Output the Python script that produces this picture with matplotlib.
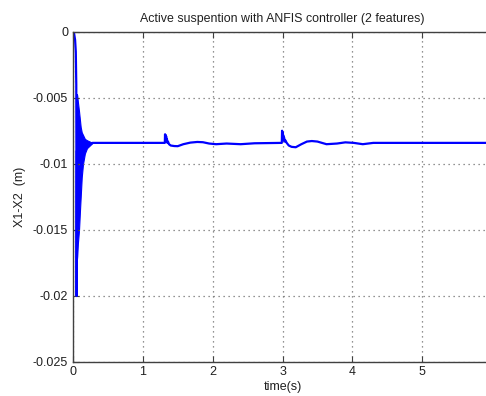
import numpy as np
import matplotlib.pyplot as plt

plt.rcParams['font.family'] = ['Liberation Sans', 'DejaVu Sans']

# main trace: time (s) and X1-X2 (m)
line_t = [0, 0.015, 0.03, 0.04, 0.047, 0.052, 0.057, 0.28,
          1.315, 1.318, 1.321, 1.325, 1.329, 1.334, 1.339, 1.345, 1.352, 1.36, 1.375, 1.40,
          1.45, 1.5, 1.58, 1.68, 1.78, 1.86, 1.95, 2.05, 2.2, 2.4, 2.6,
          2.99, 2.994, 2.997, 3.001, 3.005, 3.010, 3.016, 3.023, 3.031, 3.04, 3.06, 3.09,
          3.13, 3.19, 3.27, 3.35, 3.42, 3.5, 3.63, 3.78, 3.9, 4.02,
          4.15, 4.3, 6.0]
line_x = [0, -0.0001, -0.0006, -0.0015, -0.0040, -0.0200, -0.0090, -0.0084,
          -0.0084, -0.00775, -0.0081, -0.0078, -0.0082, -0.0079, -0.0083, -0.0081, -0.0084,
          -0.0083, -0.0085, -0.0086,
          -0.00864, -0.00865, -0.0085, -0.00838, -0.00833, -0.00835, -0.00845, -0.0085,
          -0.00845, -0.0085, -0.00843,
          -0.0084, -0.00748, -0.0080, -0.0076, -0.0081, -0.0078, -0.0082, -0.0080, -0.0083,
          -0.0082, -0.0084, -0.0086,
          -0.0087, -0.00873, -0.0085, -0.0083, -0.00826, -0.0083, -0.0085,
          -0.00845, -0.00836, -0.0084, -0.0085, -0.0084, -0.0084]

# envelope of the fast start-up oscillation
burst_t = [0.045, 0.055, 0.06, 0.07, 0.086, 0.10, 0.11, 0.125, 0.143, 0.17, 0.2, 0.24, 0.28]
burst_hi = [-0.0047, -0.0047, -0.0048, -0.0053, -0.0060, -0.0067, -0.0072, -0.0076,
            -0.0078, -0.0081, -0.0082, -0.0083, -0.0084]
burst_lo = [-0.0150, -0.0173, -0.0170, -0.0160, -0.0150, -0.0135, -0.0125, -0.0110,
            -0.0100, -0.0092, -0.0088, -0.0086, -0.0084]

xticks = [0, 1, 2, 3, 4, 5]
yticks = [0, -0.005, -0.01, -0.015, -0.02, -0.025]
ytick_labels = ['0', '-0.005', '-0.01', '-0.015', '-0.02', '-0.025']

fig = plt.figure(figsize=(4.86, 3.96), dpi=100)
ax = fig.add_axes([73 / 486, 1 - 362 / 396, 419 / 486, 330 / 396])

blue = '#0000ff'
ax.fill_between(burst_t, burst_lo, burst_hi, color=blue, lw=0.8)
ax.plot(line_t, line_x, color=blue, lw=1.6)

ax.set_xlim(0, 6)
ax.set_ylim(-0.025, 0)
ax.set_xticks(xticks)
ax.set_xticklabels([str(v) for v in xticks])
ax.set_yticks(yticks)
ax.set_yticklabels(ytick_labels)

ax.grid(True, linestyle=(0, (1, 3)), color='#707070', lw=0.9)
for s in ax.spines.values():
    s.set_color('#404040')
    s.set_linewidth(1.0)
ax.tick_params(direction='in', length=4, width=0.8, colors='#404040',
               labelcolor='#202020', labelsize=9, top=True, right=True)
ax.tick_params(axis='x', pad=3)

ax.set_title('Active suspention with ANFIS controller (2 features)', fontsize=8.9,
             pad=7, color='#202020')
ax.set_xlabel('time(s)', fontsize=9, labelpad=2, color='#202020')
ax.set_ylabel('X1-X2  (m)', fontsize=9, labelpad=5, color='#202020')

fig.savefig('out.png', dpi=100)
